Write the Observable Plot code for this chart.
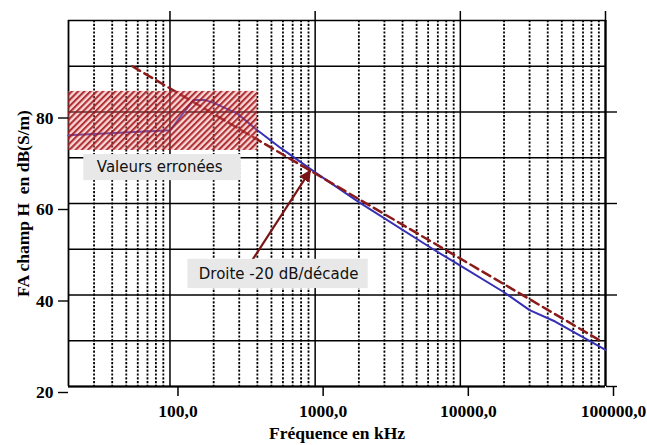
<!DOCTYPE html>
<html>
<head>
<meta charset="utf-8">
<script src="https://cdn.jsdelivr.net/npm/d3@7"></script>
<script src="https://cdn.jsdelivr.net/npm/@observablehq/plot@0.6"></script>
<style>
  html, body { margin: 0; padding: 0; background: #fff; }
  #chart svg { display: block; }
</style>
</head>
<body>
<div id="chart"></div>
<script>
// ---- Data ----
const xDomain = [20, 100000];          // Fréquence en kHz (log)
const yDomain = [20, 100];             // dB(S/m)
const yTickValues = [20, 40, 60, 80];
const yGridValues = [20, 30, 40, 50, 60, 70, 80, 90, 100];
const xMajorValues = [100, 1000, 10000, 100000];
const xMinorValues = [30, 40, 50, 60, 70, 80, 90,
  200, 300, 400, 500, 600, 700, 800, 900,
  2000, 3000, 4000, 5000, 6000, 7000, 8000, 9000,
  20000, 30000, 40000, 50000, 60000, 70000, 80000, 90000];

// Measured curve (blue)
const measFreq = [20, 100, 145, 175, 200, 290, 400, 575, 1000, 2000, 6500, 10000, 20000, 30000, 45000, 100000];
const measDb   = [74.9, 76.0, 82.6, 82.6, 82.0, 79.7, 76.0, 72.2, 66.8, 60.3, 50.0, 46.4, 40.6, 36.7, 34.2, 28.0];

// -20 dB/décade reference line (dashed)
const slopeFreq = [55, 90000];
const slopeDb   = [90.0, 30.2];

// Hatched "erroneous values" zone
const zoneFreq = [20, 400];
const zoneDb   = [71.6, 84.5];

// Annotations
const annoText = ["Valeurs erronées", "Droite -20 dB/décade"];
const annoFreq = [85, 560];
const annoDb   = [67.9, 44.6];
const boxFreq1 = [25.5, 133];
const boxFreq2 = [309, 2320];
const boxDb1   = [65.0, 41.4];
const boxDb2   = [70.7, 47.8];
const arrowFrom = [350, 46.5];
const arrowTo   = [925, 67.2];

// ---- Tables built from the arrays ----
const meas = measFreq.map((f, i) => ({f, v: measDb[i]}));
const slope = slopeFreq.map((f, i) => ({f, v: slopeDb[i]}));
const zone = [{x1: zoneFreq[0], x2: zoneFreq[1], y1: zoneDb[0], y2: zoneDb[1]}];
const annos = annoText.map((t, i) => ({t, f: annoFreq[i], v: annoDb[i]}));
const boxes = annoText.map((t, i) => ({x1: boxFreq1[i], x2: boxFreq2[i], y1: boxDb1[i], y2: boxDb2[i]}));
const arrows = [{x1: arrowFrom[0], y1: arrowFrom[1], x2: arrowTo[0], y2: arrowTo[1]}];

const fmt = d => d.toFixed(1).replace(".", ",");
const serif = "'Liberation Serif', 'Times New Roman', serif";

const svg = Plot.plot({
  width: 647,
  height: 445,
  marginLeft: 68,
  marginRight: 42,
  marginTop: 20,
  marginBottom: 59,
  style: {background: "#fff", overflow: "visible"},
  x: {type: "log", domain: xDomain},
  y: {domain: yDomain},
  marks: [
    // grid
    Plot.ruleX(xMinorValues, {stroke: "#000", strokeWidth: 1.8, strokeDasharray: "2.2,1.6"}),
    Plot.ruleY(yGridValues, {stroke: "#000", strokeWidth: 1.4}),
    Plot.ruleX(xMajorValues, {stroke: "#000", strokeWidth: 1.5}),
    Plot.ruleX([xDomain[0]], {stroke: "#000", strokeWidth: 1.8}),
    Plot.ruleX([xDomain[1]], {stroke: "#000", strokeWidth: 2.2}),
    Plot.ruleY([yDomain[0]], {stroke: "#000", strokeWidth: 2.2}),
    // axes
    Plot.axisX({
      ticks: xMajorValues, tickSize: 10, tickPadding: 8, tickFormat: fmt, strokeWidth: 1.5,
      fontSize: 17.5, fontWeight: "bold", fontFamily: serif, dx: 8,
      label: "Fréquence en kHz", labelAnchor: "center", labelOffset: 52, labelArrow: false
    }),
    Plot.axisX({anchor: "top", ticks: xMajorValues, tickSize: 10, strokeWidth: 1.5, tickFormat: () => "", label: null}),
    Plot.axisY({
      ticks: yTickValues, tickSize: 10, tickPadding: 5, tickFormat: d => String(d), strokeWidth: 1.4,
      fontSize: 17.5, fontWeight: "bold", fontFamily: serif, dy: 6,
      label: "FA champ H  en dB(S/m)", labelAnchor: "center", labelOffset: 52, labelArrow: false
    }),
    Plot.axisY({anchor: "right", ticks: yTickValues, tickSize: 11, strokeWidth: 1.4, tickFormat: () => "", label: null}),
    // data
    Plot.line(meas, {x: "f", y: "v", stroke: "#3530b4", strokeWidth: 2}),
    Plot.line(slope, {x: "f", y: "v", stroke: "#8b1a1a", strokeWidth: 2.5, strokeDasharray: "9,5"}),
    Plot.rect(zone, {x1: "x1", x2: "x2", y1: "y1", y2: "y2", fill: "url(#hatch)"}),
    Plot.link(arrows, {x1: "x1", y1: "y1", x2: "x2", y2: "y2", stroke: "#7a1414", strokeWidth: 2.2}),
    Plot.rect(boxes, {x1: "x1", x2: "x2", y1: "y1", y2: "y2", fill: "#e8e8e8"}),
    Plot.text(annos, {x: "f", y: "v", text: "t", fontSize: 15, fontFamily: "'DejaVu Sans', Verdana, sans-serif", fill: "#111"})
  ]
});

const defs = d3.select(svg).insert("defs", ":first-child");
const pat = defs.append("pattern")
  .attr("id", "hatch")
  .attr("patternUnits", "userSpaceOnUse")
  .attr("width", 4.4).attr("height", 4.4)
  .attr("patternTransform", "rotate(45)");
pat.append("rect").attr("width", 4.4).attr("height", 4.4).attr("fill", "rgba(240,140,140,0.35)");
pat.append("rect").attr("width", 2.1).attr("height", 4.4).attr("fill", "rgba(160,20,25,0.85)");

const marker = defs.append("marker")
  .attr("id", "ahead")
  .attr("viewBox", "0 0 10 10")
  .attr("refX", 9).attr("refY", 5)
  .attr("markerWidth", 5.5).attr("markerHeight", 5.5)
  .attr("orient", "auto");
marker.append("path").attr("d", "M0,0L10,5L0,10z").attr("fill", "#7a1414");
d3.select(svg).selectAll('g[aria-label="link"] path').attr("marker-end", "url(#ahead)");

document.getElementById("chart").appendChild(svg);
</script>
</body>
</html>
